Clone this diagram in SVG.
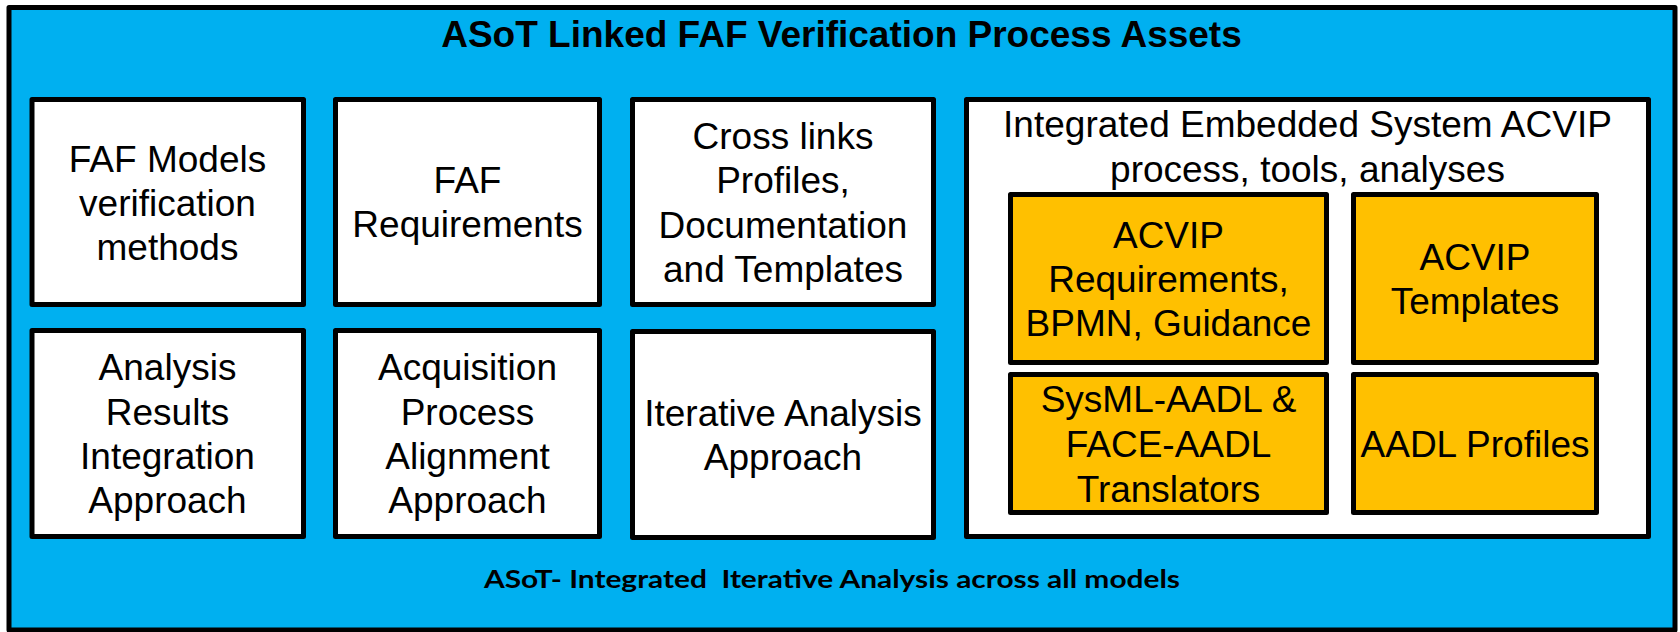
<svg xmlns="http://www.w3.org/2000/svg" width="1680" height="632" viewBox="0 0 1680 632">
<style>
.frame{fill:#00B0F0;stroke:#000;stroke-width:5;stroke-linejoin:round}
.box{fill:#FFFFFF;stroke:#000;stroke-width:5;stroke-linejoin:round}
.obox{fill:#FFC000;stroke:#000;stroke-width:5;stroke-linejoin:round}
text{font-family:"Liberation Sans",Arial,sans-serif;fill:#000}
.t{font-size:37px;text-anchor:middle}
.title{font-size:37px;font-weight:bold;text-anchor:middle}
.foot{font-family:Lato,"Liberation Sans",sans-serif;font-size:25.5px;font-weight:bold;white-space:pre}
</style>
<rect width="1680" height="632" fill="#FFFFFF"/>
<g id="frame">
<rect class="frame" x="9" y="7.5" width="1666" height="622.5"/>
<text class="title" x="841.5" y="47">ASoT Linked FAF Verification Process Assets</text>
<text class="foot" x="484" y="588" textLength="696" lengthAdjust="spacingAndGlyphs" xml:space="preserve">ASoT- Integrated  Iterative Analysis across all models</text>
</g>
<g id="n-faf-models">
<rect class="box" x="32" y="99.5" width="271.5" height="205"/>
<text class="t" x="167.5" y="172">FAF Models</text>
<text class="t" x="167.5" y="216">verification</text>
<text class="t" x="167.5" y="260">methods</text>
</g>
<g id="n-faf-req">
<rect class="box" x="335.5" y="99.5" width="264" height="205"/>
<text class="t" x="467.5" y="193">FAF</text>
<text class="t" x="467.5" y="237">Requirements</text>
</g>
<g id="n-crosslinks">
<rect class="box" x="632.5" y="99.5" width="301" height="205"/>
<text class="t" x="783" y="148.5">Cross links</text>
<text class="t" x="783" y="193">Profiles,</text>
<text class="t" x="783" y="237.5">Documentation</text>
<text class="t" x="783" y="282">and Templates</text>
</g>
<g id="n-analysis">
<rect class="box" x="32" y="330.5" width="271.5" height="206"/>
<text class="t" x="167.5" y="380">Analysis</text>
<text class="t" x="167.5" y="424.5">Results</text>
<text class="t" x="167.5" y="469">Integration</text>
<text class="t" x="167.5" y="513">Approach</text>
</g>
<g id="n-acquisition">
<rect class="box" x="335.5" y="330.5" width="264" height="206"/>
<text class="t" x="467.5" y="380">Acquisition</text>
<text class="t" x="467.5" y="424.5">Process</text>
<text class="t" x="467.5" y="469">Alignment</text>
<text class="t" x="467.5" y="513">Approach</text>
</g>
<g id="n-iterative">
<rect class="box" x="632.5" y="331.5" width="301" height="206"/>
<text class="t" x="783" y="425.5">Iterative Analysis</text>
<text class="t" x="783" y="470">Approach</text>
</g>
<g id="n-acvip-system">
<rect class="box" x="966.5" y="99.5" width="682" height="437"/>
<text class="t" x="1307.5" y="137">Integrated Embedded System ACVIP</text>
<text class="t" x="1307.5" y="182">process, tools, analyses</text>
</g>
<g id="n-acvip-req">
<rect class="obox" x="1010.5" y="194.5" width="316" height="168"/>
<text class="t" x="1168.5" y="247.5">ACVIP</text>
<text class="t" x="1168.5" y="291.5">Requirements,</text>
<text class="t" x="1168.5" y="335.5">BPMN, Guidance</text>
</g>
<g id="n-acvip-templates">
<rect class="obox" x="1353.5" y="194.5" width="243" height="168"/>
<text class="t" x="1475" y="270">ACVIP</text>
<text class="t" x="1475" y="313.5">Templates</text>
</g>
<g id="n-translators">
<rect class="obox" x="1010.5" y="374.5" width="316" height="138"/>
<text class="t" x="1168.5" y="412">SysML-AADL &amp;</text>
<text class="t" x="1168.5" y="457">FACE-AADL</text>
<text class="t" x="1168.5" y="501.5">Translators</text>
</g>
<g id="n-aadl-profiles">
<rect class="obox" x="1353.5" y="374.5" width="243" height="138"/>
<text class="t" x="1475" y="457">AADL Profiles</text>
</g>
<g id="connectors"/>
</svg>
